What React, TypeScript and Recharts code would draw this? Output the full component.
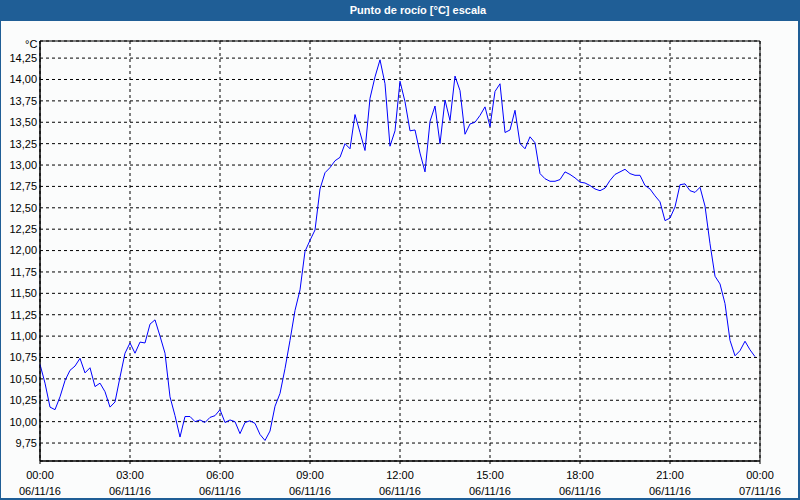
import React from 'react';
import { LineChart, Line, XAxis, YAxis, CartesianGrid, ReferenceArea } from 'recharts';

const title = 'Punto de rocío [°C] escala';
const unitLabel = '°C';

// dew point every 10 minutes, 00:00 .. 23:50 (06/11/16)
const dewPoint: number[] = [
  10.67, 10.45, 10.17, 10.14, 10.29, 10.48, 10.60, 10.65, 10.74, 10.57, 10.63, 10.41,
  10.45, 10.35, 10.17, 10.23, 10.52, 10.80, 10.92, 10.80, 10.93, 10.92, 11.14, 11.19,
  11.00, 10.80, 10.29, 10.07, 9.82, 10.06, 10.06, 10.00, 10.02, 9.99, 10.05, 10.07,
  10.14, 9.99, 10.02, 10.00, 9.86, 9.99, 10.01, 9.98, 9.85, 9.78, 9.89, 10.18,
  10.33, 10.62, 10.95, 11.30, 11.54, 11.99, 12.12, 12.24, 12.72, 12.91, 12.97, 13.05,
  13.09, 13.25, 13.19, 13.59, 13.38, 13.17, 13.78, 14.03, 14.23, 13.95, 13.22, 13.40,
  13.98, 13.74, 13.40, 13.41, 13.14, 12.92, 13.51, 13.69, 13.25, 13.76, 13.52, 14.04,
  13.87, 13.36, 13.48, 13.50, 13.58, 13.68, 13.45, 13.86, 13.95, 13.38, 13.41, 13.64,
  13.25, 13.19, 13.33, 13.26, 12.90, 12.84, 12.81, 12.81, 12.83, 12.92, 12.89, 12.85,
  12.80, 12.79, 12.76, 12.72, 12.70, 12.73, 12.82, 12.89, 12.92, 12.95, 12.90, 12.88,
  12.88, 12.76, 12.72, 12.64, 12.57, 12.35, 12.38, 12.51, 12.77, 12.78, 12.70, 12.68,
  12.74, 12.52, 12.08, 11.70, 11.61, 11.38, 10.95, 10.77, 10.83, 10.94, 10.84, 10.76,
];

const majorHours = [0, 3, 6, 9, 12, 15, 18, 21, 24];
const timeLabels = ['00:00', '03:00', '06:00', '09:00', '12:00', '15:00', '18:00', '21:00', '00:00'];
const dateLabels = ['06/11/16', '06/11/16', '06/11/16', '06/11/16', '06/11/16', '06/11/16', '06/11/16', '06/11/16', '07/11/16'];
const minorHours = [0, 1, 2, 3, 4, 5, 6, 7, 8, 9, 10, 11, 12, 13, 14, 15, 16, 17, 18, 19, 20, 21, 22, 23, 24];
const yTicks = [9.75, 10, 10.25, 10.5, 10.75, 11, 11.25, 11.5, 11.75, 12, 12.25, 12.5, 12.75, 13, 13.25, 13.5, 13.75, 14, 14.25];
const yDomain: [number, number] = [9.54, 14.45];

const data = dewPoint.map((v, i) => ({ t: i / 6, v }));

const FONT = '"Liberation Sans", Arial, sans-serif';
const BLUE = '#1f5e96';

const XTick = (props: any) => {
  const { x, y, payload } = props;
  const i = majorHours.indexOf(payload.value);
  if (i < 0) return null;
  return (
    <text x={x} y={y} textAnchor="middle" fontFamily={FONT} fontSize={11} fill="#000">
      <tspan x={x} dy={13}>{timeLabels[i]}</tspan>
      <tspan x={x} dy={16}>{dateLabels[i]}</tspan>
    </text>
  );
};

export default function App() {
  return (
    <div style={{ position: 'absolute', left: 0, top: 0, width: 800, height: 500, background: BLUE, fontFamily: FONT }}>
      <div style={{ position: 'absolute', left: 1, top: 21, width: 797, height: 477, background: '#fbfcfc' }} />
      <div style={{ position: 'absolute', left: 18, top: 0, width: 800, height: 21, lineHeight: '21px', textAlign: 'center', color: '#fff', fontWeight: 'bold', fontSize: 11 }}>
        {title}
      </div>
      <div style={{ position: 'absolute', left: 25, top: 38, fontSize: 11, color: '#000' }}>{unitLabel}</div>
      <div style={{ position: 'absolute', left: 0, top: 0 }}>
        <LineChart width={800} height={500} data={data} margin={{ top: 41, right: 40, left: 0, bottom: 0 }}>
          <CartesianGrid stroke="#000" strokeDasharray="3 3" />
          <XAxis
            xAxisId="minor"
            dataKey="t"
            type="number"
            domain={[0, 24]}
            ticks={minorHours}
            height={0}
            axisLine={false}
            tick={false}
            tickSize={3}
            tickLine={{ stroke: '#000' }}
          />
          <XAxis
            dataKey="t"
            type="number"
            domain={[0, 24]}
            ticks={majorHours}
            height={39}
            axisLine={{ stroke: '#000' }}
            tickLine={{ stroke: '#000' }}
            tickSize={3}
            tickMargin={2}
            tick={<XTick />}
            interval={0}
          />
          <YAxis
            type="number"
            domain={yDomain}
            allowDataOverflow
            ticks={yTicks}
            width={40}
            interval={0}
            axisLine={{ stroke: '#000' }}
            tickLine={false}
            tickSize={0}
            tickMargin={3}
            tick={{ fontFamily: FONT, fontSize: 11, fill: '#000' }}
            tickFormatter={(v: number) => v.toFixed(2).replace('.', ',')}
          />
          <ReferenceArea x1={0} x2={24} y1={yDomain[0]} y2={yDomain[1]} stroke="#000" strokeWidth={1} fill="none" fillOpacity={0} ifOverflow="visible" />
          <Line dataKey="v" stroke="#0000ff" strokeWidth={1} dot={false} type="linear" isAnimationActive={false} />
        </LineChart>
      </div>
    </div>
  );
}
